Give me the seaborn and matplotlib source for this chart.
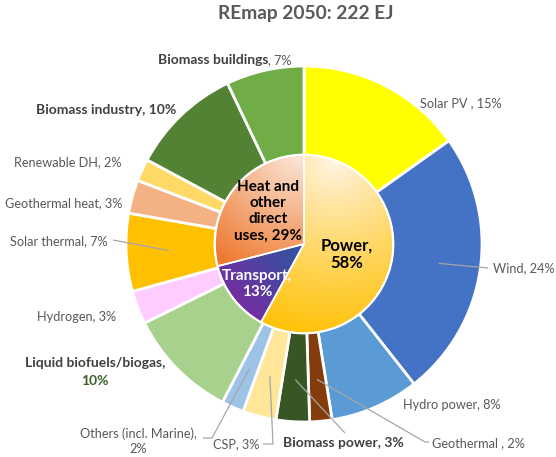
import numpy as np
import matplotlib
matplotlib.use("Agg")
import matplotlib.pyplot as plt
import matplotlib.colors as mcolors
from matplotlib.patches import Wedge
import seaborn as sns

# ---------------- data ----------------
outer_labels = ["Solar PV", "Wind", "Hydro power", "Geothermal", "Biomass power", "CSP",
                "Others (incl. Marine)", "Liquid biofuels/biogas", "Hydrogen", "Solar thermal",
                "Geothermal heat", "Renewable DH", "Biomass industry", "Biomass buildings"]
outer_values = [15, 24, 8, 2, 3, 3, 2, 10, 3, 7, 3, 2, 10, 7]
outer_colors = ["#FFFF00", "#4472C4", "#5B9BD5", "#843C0C", "#375623", "#FFE699",
                "#9DC3E6", "#A9D18E", "#FFCCFF", "#FFC000", "#F4B183", "#FFD966",
                "#548235", "#70AD47"]

inner_labels = ["Power", "Transport", "Heat and\nother\ndirect\nuses"]
inner_values = [58, 13, 29]

title_text = "REmap 2050: 222 EJ"

# ---------------- style ----------------
sns.set_theme(style="white")
plt.rcParams['font.family'] = ['Lato', 'DejaVu Sans']

W, H = 556, 457
fig = plt.figure(figsize=(W / 100, H / 100), dpi=100)
ax = fig.add_axes([0, 0, 1, 1])

def P(x, y):
    """pixel (top-left origin) -> data coords"""
    return (x, H - y)

cx, cy = P(304, 244)
R_out, R_in = 178, 89

outer_wedges, _ = ax.pie(outer_values, colors=outer_colors, radius=R_out, center=(cx, cy),
                         startangle=90, counterclock=False,
                         wedgeprops=dict(width=R_out - R_in, edgecolor="white", linewidth=2.0))
inner_wedges, _ = ax.pie(inner_values, colors=["#FFD966", "#6A2FA0", "#F4B183"], radius=R_in,
                         center=(cx, cy), startangle=90, counterclock=False,
                         wedgeprops=dict(edgecolor="white", linewidth=1.2))

# gradient fills for the inner pie
xs = np.linspace(cx - R_in, cx + R_in, 300)
ys = np.linspace(cy - R_in, cy + R_in, 300)
X, Y = np.meshgrid(xs, ys)

def radial(p0, rad):
    return np.clip(np.hypot(X - p0[0], Y - p0[1]) / rad, 0, 1)

def linear(p0, p1):
    d = np.array(p1) - np.array(p0)
    return np.clip(((X - p0[0]) * d[0] + (Y - p0[1]) * d[1]) / (d @ d), 0, 1)

def fill(wedge, t, c0, c1):
    a = np.array(mcolors.to_rgb(c0))
    b = np.array(mcolors.to_rgb(c1))
    img = a[None, None, :] + t[..., None] * (b - a)[None, None, :]
    im = ax.imshow(img, extent=(xs[0], xs[-1], ys[0], ys[-1]), origin="lower",
                   zorder=wedge.get_zorder() + 0.1, interpolation="bilinear")
    im.set_clip_path(wedge)

fill(inner_wedges[0], radial(P(335, 160), 185) ** 0.85, "#FFF6EA", "#FFC000")
fill(inner_wedges[1], linear(P(300, 248), P(240, 300)), "#2F55A0", "#7030A0")
fill(inner_wedges[2], radial(P(300, 150), 135), "#FCEAE0", "#EE7A30")

# redraw inner edges on top
for w in inner_wedges:
    e = Wedge(w.center, w.r, w.theta1, w.theta2, facecolor="none", edgecolor="white",
              linewidth=1.2, zorder=w.get_zorder() + 0.2)
    ax.add_patch(e)

ax.set_xlim(0, W)
ax.set_ylim(0, H)
ax.set_aspect("equal")
ax.axis("off")

# ---------------- texts ----------------
GRAY = "#595959"
DARK = "#404040"
FS = 9.2
FSB = 10.0

ax.text(*P(306, 14), title_text, ha="center", va="center", fontsize=13.8,
        fontweight="bold", color=GRAY)

def lab(x, y, s, bold=False, color=None, ha="left", **kw):
    return ax.text(*P(x, y), s, ha=ha, va="center", fontsize=FSB if bold else FS,
                   fontweight="bold" if bold else "normal",
                   color=color or (DARK if bold else GRAY), **kw)

def lab2(x, y, s1, s2):
    t1 = lab(x, y, s1, bold=True)
    ax.annotate(s2, xy=(1, 0), xycoords=t1, ha="left", va="bottom", fontsize=FS, color=GRAY)

v = dict(zip(outer_labels, outer_values))
lab(420, 103, f"Solar PV , {v['Solar PV']}%")
lab(493, 268, f"Wind, {v['Wind']}%")
lab(403, 405, f"Hydro power, {v['Hydro power']}%")
lab(432, 443, f"Geothermal , {v['Geothermal']}%")
lab(283, 443, f"Biomass power, {v['Biomass power']}%", bold=True)
lab(213, 444, f"CSP, {v['CSP']}%")
lab(138, 441, f"Others (incl. Marine),\n{v['Others (incl. Marine)']}%", ha="center",
    multialignment="center", linespacing=1.25)
lab(95, 363, "Liquid biofuels/biogas,", bold=True, ha="center")
lab(95, 381, f"{v['Liquid biofuels/biogas']}%", bold=True, ha="center", color="#3A5F28")
lab(37, 317, f"Hydrogen, {v['Hydrogen']}%")
lab(10, 241, f"Solar thermal, {v['Solar thermal']}%")
lab(5, 203, f"Geothermal heat, {v['Geothermal heat']}%")
lab(14, 162, f"Renewable DH, {v['Renewable DH']}%")
lab(36, 110, f"Biomass industry, {v['Biomass industry']}%", bold=True)
lab2(158, 60, "Biomass buildings", f", {v['Biomass buildings']}%")

# inner labels
ax.text(*P(347, 254), f"{inner_labels[0]},\n{inner_values[0]}%", ha="center", va="center",
        fontsize=12, fontweight="bold", color="black", linespacing=1.15, zorder=10)
ax.text(*P(257, 284), f"{inner_labels[1]},\n{inner_values[1]}%", ha="center", va="center",
        fontsize=11, fontweight="bold", color="white", linespacing=1.2, zorder=10)
ax.text(*P(268, 211), f"{inner_labels[2]}, {inner_values[2]}%", ha="center", va="center",
        fontsize=11, fontweight="bold", color="black", linespacing=1.2, zorder=10)

# ---------------- leader lines ----------------
total = sum(outer_values)
cum = np.cumsum([0] + outer_values)

def anchor(name, r=136):
    i = outer_labels.index(name)
    mid = (cum[i] + cum[i + 1]) / 2 / total * 2 * np.pi
    return (cx + r * np.sin(mid), cy + r * np.cos(mid))

def leader(name, pts):
    a = anchor(name)
    path = [a] + [P(*p) for p in pts]
    ax.plot([p[0] for p in path], [p[1] for p in path], color="#A6A6A6", lw=0.9,
            zorder=5, solid_capstyle="butt")

leader("Wind", [(488, 268)])
leader("Solar thermal", [(113, 240)])
leader("Geothermal", [(425, 442), (429, 442)])
leader("Biomass power", [(345, 433)])
leader("CSP", [(273, 444), (263, 444)])
leader("Others (incl. Marine)", [(212, 438), (203, 438)])

fig.savefig("out.png", dpi=100)
